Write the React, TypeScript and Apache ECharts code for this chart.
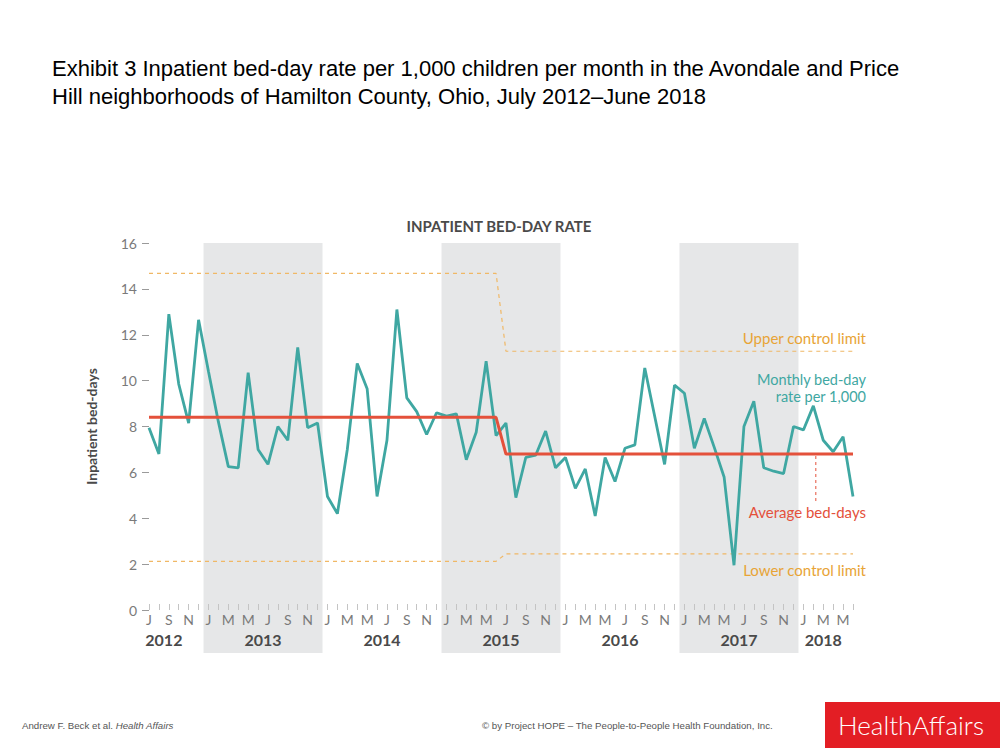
import React, { useEffect, useRef } from "react";
import * as echarts from "echarts";

// Month letters, July 2012 – June 2018 (72 months)
const monthLetters: string[] = [
  "J", "A", "S", "O", "N", "D",
  "J", "F", "M", "A", "M", "J", "J", "A", "S", "O", "N", "D",
  "J", "F", "M", "A", "M", "J", "J", "A", "S", "O", "N", "D",
  "J", "F", "M", "A", "M", "J", "J", "A", "S", "O", "N", "D",
  "J", "F", "M", "A", "M", "J", "J", "A", "S", "O", "N", "D",
  "J", "F", "M", "A", "M", "J", "J", "A", "S", "O", "N", "D",
  "J", "F", "M", "A", "M", "J",
];

// Monthly bed-day rate per 1,000
const bedDayRate: number[] = [
  7.95, 6.8, 12.9, 9.85, 8.15, 12.65,
  10.4, 8.2, 6.25, 6.2, 10.35, 7.0, 6.35, 8.0, 7.4, 11.45, 7.95, 8.15,
  4.95, 4.2, 7.0, 10.75, 9.65, 4.95, 7.4, 13.1, 9.25, 8.65, 7.65, 8.6,
  8.45, 8.55, 6.55, 7.75, 10.85, 7.6, 8.15, 4.9, 6.65, 6.75, 7.8, 6.2,
  6.65, 5.3, 6.15, 4.1, 6.65, 5.6, 7.05, 7.2, 10.55, 8.45, 6.35, 9.8,
  9.45, 7.05, 8.35, 7.1, 5.8, 1.95, 8.0, 9.1, 6.2, 6.05, 5.95, 8.0,
  7.85, 8.9, 7.4, 6.9, 7.55, 4.95,
];

// Step lines: [month index, value]
const averageLine: [number, number][] = [[0, 8.4], [35, 8.4], [36, 6.8], [71, 6.8]];
const upperLimit: [number, number][] = [[0, 14.68], [35, 14.68], [36, 11.28], [71, 11.28]];
const lowerLimit: [number, number][] = [[0, 2.12], [35, 2.12], [36, 2.45], [71, 2.45]];

// Year labels: [label, centre month index]
const yearLabels: [string, number][] = [
  ["2012", 1.5], ["2013", 11.5], ["2014", 23.5], ["2015", 35.5],
  ["2016", 47.5], ["2017", 59.5], ["2018", 68],
];
// Shaded years: [first month index, last month index]
const shadedYears: [number, number][] = [[6, 17], [30, 41], [54, 65]];

const TEAL = "#3fa7a2";
const RED = "#e4513b";
const ORANGE_LINE = "#f0b866";
const ORANGE_TEXT = "#e8a436";
const FONT = "Lato";

export default function App() {
  const ref = useRef<HTMLDivElement>(null);
  useEffect(() => {
    if (!ref.current) return;
    const chart = echarts.init(ref.current, null, { renderer: "svg" });
    const option: any = {
      animation: false,
      backgroundColor: "#ffffff",
      grid: { left: 149, right: 147, top: 243, bottom: 138 },
      xAxis: {
        type: "value",
        min: 0,
        max: 71,
        interval: 1,
        axisLine: { show: false },
        splitLine: { show: false },
        axisTick: { show: true, inside: true, length: 6, lineStyle: { color: "#c4c4c4", width: 1 } },
        axisLabel: {
          formatter: (v: number) => (v % 2 === 0 ? monthLetters[v] ?? "" : ""),
          color: "#7a7a7a",
          fontSize: 14,
          fontFamily: FONT,
          margin: 2,
        },
      },
      yAxis: {
        type: "value",
        min: 0,
        max: 16,
        interval: 2,
        offset: 6,
        name: "Inpatient bed-days",
        nameLocation: "middle",
        nameRotate: 90,
        nameGap: 45,
        nameTextStyle: { color: "#4a4a4a", fontSize: 14, fontWeight: "bold", fontFamily: FONT },
        axisLine: { show: false },
        splitLine: { show: false },
        axisTick: { show: true, length: 7, lineStyle: { color: "#9a9a9a" } },
        axisLabel: { color: "#7a7a7a", fontSize: 14, fontFamily: FONT, margin: 6 },
      },
      series: [
        {
          type: "line",
          data: upperLimit,
          symbol: "none",
          lineStyle: { color: ORANGE_LINE, width: 1.2, type: [4, 4] },
          z: 2,
        },
        {
          type: "line",
          data: lowerLimit,
          symbol: "none",
          lineStyle: { color: ORANGE_LINE, width: 1.2, type: [4, 4] },
          z: 2,
        },
        {
          type: "line",
          data: bedDayRate.map((v, i) => [i, v]),
          symbol: "none",
          lineStyle: { color: TEAL, width: 2.8 },
          z: 3,
        },
        {
          type: "line",
          data: averageLine,
          symbol: "none",
          lineStyle: { color: RED, width: 3 },
          z: 4,
        },
      ],
    };
    chart.setOption(option);

    const px = (x: number, y: number) => chart.convertToPixel({ gridIndex: 0 }, [x, y]) as number[];
    const step = px(1, 0)[0] - px(0, 0)[0];
    const bandTop = px(0, 16)[1];
    const graphics: any[] = [];

    shadedYears.forEach(([a, b]) => {
      const x0 = px(a, 0)[0] - step / 2;
      const x1 = px(b, 0)[0] + step / 2;
      graphics.push({
        type: "rect",
        z: -10,
        shape: { x: x0, y: bandTop, width: x1 - x0, height: 653 - bandTop },
        style: { fill: "#e6e7e8" },
        silent: true,
      });
    });

    yearLabels.forEach(([label, idx]) => {
      const p = px(idx, 0);
      graphics.push({
        type: "text",
        x: p[0],
        y: 639,
        style: {
          text: label,
          fill: "#4a4a4a",
          font: `bold 16px ${FONT}`,
          textAlign: "center",
          textVerticalAlign: "middle",
        },
      });
    });

    // pointer from average line to its label
    const pA = px(67.25, 6.8);
    const pB = px(67.25, 4.65);
    graphics.push({
      type: "line",
      shape: { x1: pA[0], y1: pA[1] + 2, x2: pB[0], y2: pB[1] },
      style: { stroke: RED, lineWidth: 1, lineDash: [3, 3] },
    });

    const annot = (text: string, y: number, color: string, size = 15) => ({
      type: "text",
      x: 866,
      y,
      style: { text, fill: color, font: `${size}px ${FONT}`, textAlign: "right", textVerticalAlign: "middle" },
    });
    graphics.push(annot("Upper control limit", 338, ORANGE_TEXT));
    graphics.push(annot("Monthly bed-day", 379, TEAL, 14.5));
    graphics.push(annot("rate per 1,000", 396, TEAL, 14.5));
    graphics.push(annot("Average bed-days", 512, RED));
    graphics.push(annot("Lower control limit", 570, ORANGE_TEXT));

    // Chart heading
    graphics.push({
      type: "text",
      x: 499,
      y: 226,
      style: {
        text: "INPATIENT BED-DAY RATE",
        fill: "#4a4a4a",
        font: `bold 15px ${FONT}`,
        textAlign: "center",
        textVerticalAlign: "middle",
      },
    });

    // Exhibit title
    graphics.push({
      type: "text",
      x: 52,
      y: 68,
      style: {
        text: "Exhibit 3 Inpatient bed-day rate per 1,000 children per month in the Avondale and Price",
        fill: "#000",
        font: "22px 'Liberation Sans'",
        textVerticalAlign: "middle",
      },
    });
    graphics.push({
      type: "text",
      x: 52,
      y: 96,
      style: {
        text: "Hill neighborhoods of Hamilton County, Ohio, July 2012–June 2018",
        fill: "#000",
        font: "22px 'Liberation Sans'",
        textVerticalAlign: "middle",
      },
    });

    // Footer
    graphics.push({
      type: "text",
      x: 22,
      y: 725,
      style: {
        text: "{a|Andrew F. Beck et al. }{b|Health Affairs}",
        textVerticalAlign: "middle",
        rich: {
          a: { fill: "#555", font: "9.7px 'Liberation Sans'" },
          b: { fill: "#555", font: "italic 9.7px 'Liberation Sans'" },
        },
      },
    });
    graphics.push({
      type: "text",
      x: 482,
      y: 725,
      style: {
        text: "© by Project HOPE – The People-to-People Health Foundation, Inc.",
        fill: "#555",
        font: "9.7px 'Liberation Sans'",
        textVerticalAlign: "middle",
      },
    });
    graphics.push({
      type: "rect",
      shape: { x: 825, y: 702, width: 175, height: 46 },
      style: { fill: "#e31e24" },
    });
    graphics.push({
      type: "text",
      x: 911,
      y: 725,
      style: {
        text: "HealthAffairs",
        fill: "#ffffff",
        font: `300 26px ${FONT}`,
        textAlign: "center",
        textVerticalAlign: "middle",
      },
    });

    chart.setOption({ graphic: graphics });

    return () => chart.dispose();
  }, []);

  return (
    <div
      ref={ref}
      style={{ position: "fixed", left: 0, top: 0, width: 1000, height: 748, background: "#fff" }}
    />
  );
}
